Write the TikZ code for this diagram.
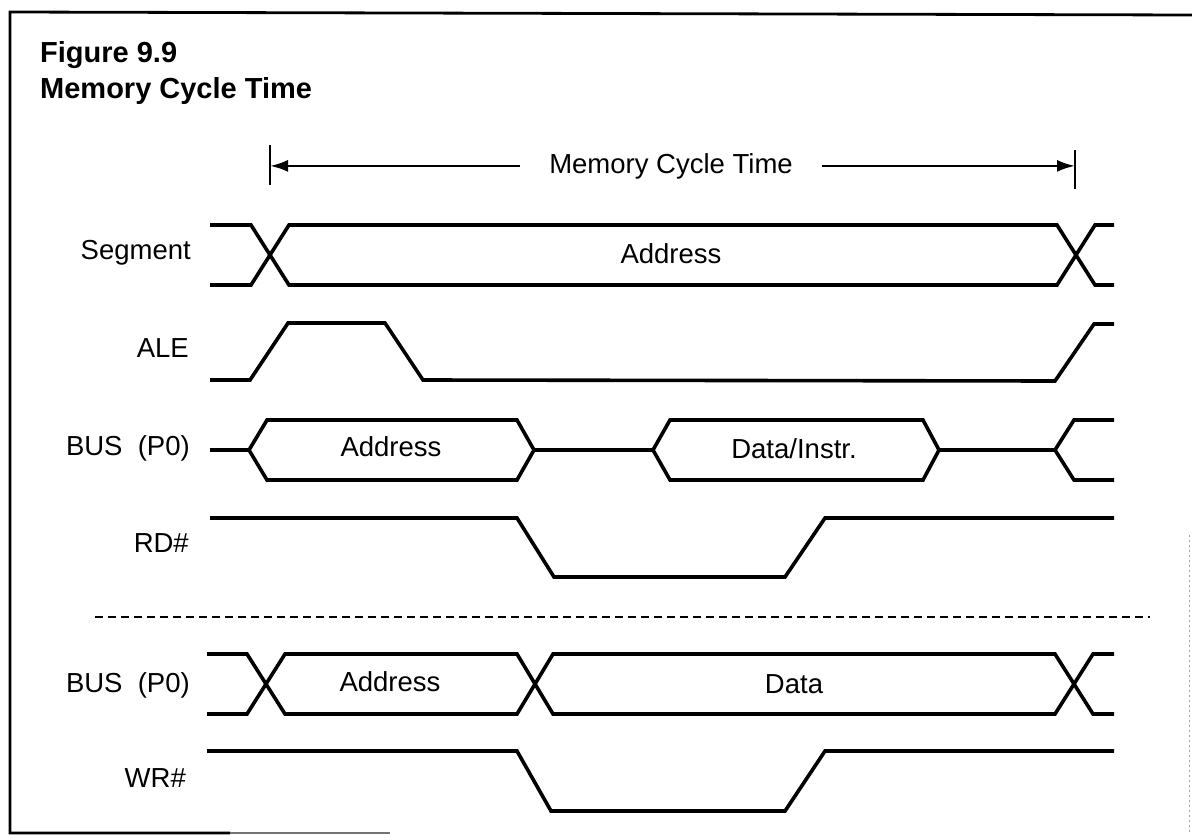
\documentclass[tikz,border=0pt]{standalone}
\usepackage{fontspec}
\setmainfont{Liberation Sans}
\usetikzlibrary{arrows.meta}
\begin{document}
\begin{tikzpicture}[x=1pt,y=-1pt,
  sig/.style={line width=3.6pt, line join=miter, line cap=butt},
  frame/.style={line width=2.8pt},
  lbl/.style={font=\fontsize{27.5}{32}\selectfont, anchor=base east, inner sep=0pt},
  txt/.style={font=\fontsize{27.5}{32}\selectfont, anchor=base, inner sep=0pt},
  ttl/.style={font=\fontsize{29}{34}\selectfont\bfseries, anchor=base west, inner sep=0pt},
  arr/.style={line width=2.4pt, -{Latex[length=18pt,width=12pt]}},
  tick/.style={line width=2pt},
  sep/.style={line width=2.2pt, dash pattern=on 8pt off 5pt}
]
\useasboundingbox (0,0) rectangle (1192,835);
% frame
\draw[frame] (1192,15) -- (10,12) -- (10,833) -- (230,833);
\draw[frame, black!55] (230,833) -- (390,833);
\draw[black!35, line width=1pt, dash pattern=on 2pt off 3pt] (1189,535) -- (1189,835);
% title
\node[ttl] (t1) at (40,62) {Figure 9.9};
\node[ttl] (t2) at (40,98) {Memory Cycle Time};
% memory cycle time arrow
\coordinate (tlt) at (270,145); \coordinate (tlb) at (270,185);
\coordinate (trt) at (1075,150); \coordinate (trb) at (1075,189);
\draw[tick] (tlt) -- (tlb);
\draw[tick] (trt) -- (trb);
\node[txt, inner xsep=29pt, inner ysep=0pt] (mct) at (671,173) {Memory Cycle Time};
\draw[arr] (mct.west) -- (mct.west -| tlt);
\draw[arr] (mct.east) -- (mct.east -| trt);
% labels
\node[lbl] (lseg) at (191,259) {Segment};
\node[lbl] (lale) at (189,357) {ALE};
\node[lbl] (lbus1) at (190,455) {BUS\ \ (P0)};
\node[lbl] (lrd) at (189,552) {RD\#};
\node[lbl] (lbus2) at (190,692) {BUS\ \ (P0)};
\node[lbl] (lwr) at (186,787) {WR\#};
% Segment
\draw[sig] (210,225)--(251,225)--(289,285)--(1057,285)--(1095,225)--(1114,225);
\draw[sig] (210,285)--(251,285)--(289,225)--(1057,225)--(1095,285)--(1114,285);
\node[txt] (sa) at (671,263) {Address};
% ALE
\draw[sig] (210,380)--(250,380)--(288,323)--(385,323)--(423,380)--(1055,381)--(1094,324)--(1114,324);
% BUS 1
\draw[sig] (210,450)--(249,450);
\draw[sig] (249,450)--(267,420)--(517,420)--(534,450)--(517,480)--(267,480)--cycle;
\draw[sig] (534,450)--(653,450);
\draw[sig] (653,450)--(670,420)--(923,420)--(939,450)--(923,480)--(670,480)--cycle;
\draw[sig] (939,450)--(1055,450);
\draw[sig] (1114,420)--(1074,420)--(1055,450)--(1074,480)--(1114,480);
\node[txt] (ba1) at (391,456) {Address};
\node[txt] (bd1) at (794,458) {Data/Instr.};
% RD#
\draw[sig] (210,518)--(517,518)--(554,577)--(785,577)--(825,518)--(1114,518);
% separator
\coordinate (sl) at (95,617); \coordinate (sr) at (1150,617);
\draw[sep] (sl) -- (sr);
% BUS 2
\draw[sig] (207,654)--(247,654)--(285,714)--(517,714)--(553,654)--(1055,654)--(1093,714)--(1114,714);
\draw[sig] (207,714)--(247,714)--(285,654)--(517,654)--(553,714)--(1055,714)--(1093,654)--(1114,654);
\node[txt] (ba2) at (390,691) {Address};
\node[txt] (bd2) at (794,693) {Data};
% WR#
\draw[sig] (207,751)--(517,751)--(551,811)--(785,811)--(825,751)--(1114,751);
\end{tikzpicture}
\end{document}
